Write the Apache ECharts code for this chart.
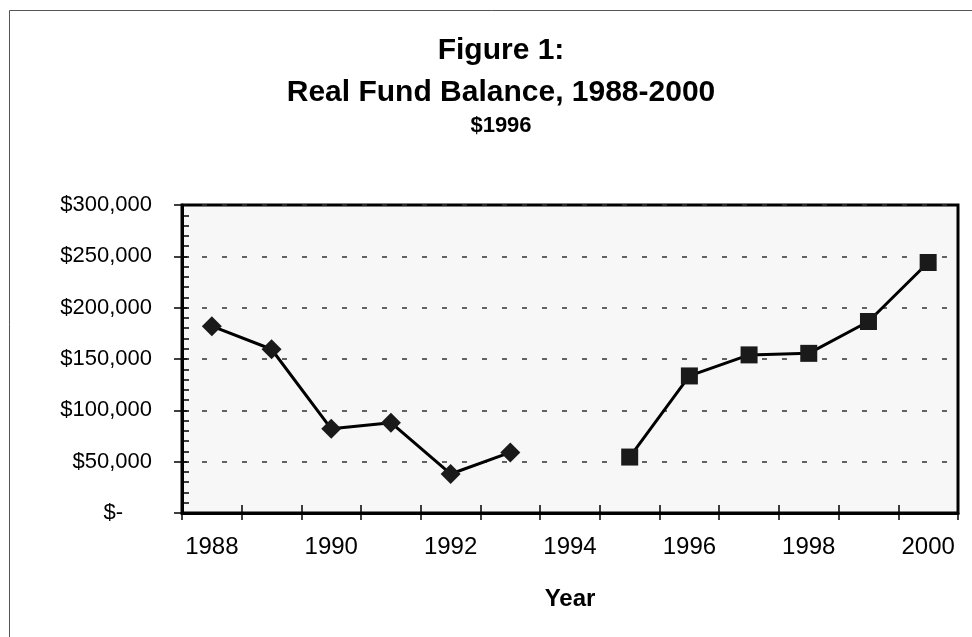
<!DOCTYPE html>
<html>
<head>
<meta charset="utf-8">
<title>Real Fund Balance, 1988-2000</title>
<script src="https://cdn.jsdelivr.net/npm/echarts@6/dist/echarts.min.js"></script>
<style>
  html, body { margin: 0; padding: 0; background: #fff; }
  #chart { width: 972px; height: 637px; }
</style>
</head>
<body>
<div id="chart"></div>
<script>
// categories (years) and the two segments of the series
var years = ['1988', '1989', '1990', '1991', '1992', '1993', '1994', '1995', '1996', '1997', '1998', '1999', '2000'];
var earlyYears = ['1988', '1989', '1990', '1991', '1992', '1993'];
var earlyBalance = [182000, 159500, 82000, 88000, 38000, 59000];
var lateYears = ['1995', '1996', '1997', '1998', '1999', '2000'];
var lateBalance = [54500, 133500, 154000, 155500, 186500, 244000];
var yTicks = [0, 50000, 100000, 150000, 200000, 250000, 300000];

var FONT = '"Liberation Sans", Arial, sans-serif';

function toSeries(keys, vals) {
  return years.map(function (y) {
    var i = keys.indexOf(y);
    return i < 0 ? null : vals[i];
  });
}

function money(v) {
  if (v === 0) return '{z|$-}';
  return '$' + v.toLocaleString('en-US');
}

var chart = echarts.init(document.getElementById('chart'));

var option = {
  animation: false,
  backgroundColor: '#fff',
  title: [
    { text: 'Figure 1:', left: 496, top: 31, textAlign: 'center',
      textStyle: { fontFamily: FONT, fontSize: 30, fontWeight: 'bold', color: '#000' } },
    { text: 'Real Fund Balance, 1988-2000', left: 496, top: 73, textAlign: 'center',
      textStyle: { fontFamily: FONT, fontSize: 30, fontWeight: 'bold', color: '#000' } },
    { text: '$1996', left: 496, top: 110, textAlign: 'center',
      textStyle: { fontFamily: FONT, fontSize: 22, fontWeight: 'bold', color: '#000' } }
  ],
  graphic: [
    {
      type: 'rect',
      shape: { x: 9.5, y: 10.5, width: 1000, height: 700 },
      style: { fill: 'none', stroke: '#555', lineWidth: 1 },
      silent: true
    }
  ],
  grid: {
    left: 182, right: 14, top: 205, bottom: 124,
    show: true,
    backgroundColor: '#f7f7f7',
    borderColor: '#000',
    borderWidth: 3
  },
  xAxis: [
    {
      type: 'category',
      data: years,
      boundaryGap: true,
      name: 'Year',
      nameLocation: 'middle',
      nameGap: 74,
      nameTextStyle: { fontFamily: FONT, fontSize: 24, fontWeight: 'bold', color: '#000' },
      axisLine: { lineStyle: { color: '#000', width: 3 } },
      axisTick: { show: true, inside: false, length: 7, interval: 0, lineStyle: { color: '#000', width: 1.5 } },
      axisLabel: { interval: 1, margin: 22, fontFamily: FONT, fontSize: 24, color: '#000' },
      splitLine: { show: false }
    },
    {
      // inner half of the crossing ticks
      type: 'category',
      data: years,
      position: 'bottom',
      boundaryGap: true,
      axisLine: { show: false },
      axisTick: { show: true, inside: true, length: 8, interval: 0, lineStyle: { color: '#000', width: 1.5 } },
      axisLabel: { show: false },
      splitLine: { show: false }
    }
  ],
  yAxis: [
    {
      type: 'value',
      min: yTicks[0],
      max: yTicks[yTicks.length - 1],
      interval: yTicks[1] - yTicks[0],
      axisLine: { show: true, lineStyle: { color: '#000', width: 3 } },
      axisTick: { show: true, inside: false, length: 8, lineStyle: { color: '#000', width: 1.5 } },
      axisLabel: {
        margin: 30,
        fontFamily: FONT, fontSize: 22, color: '#000',
        formatter: money,
        rich: { z: { fontFamily: FONT, fontSize: 22, color: '#000', padding: [0, 29, 0, 0] } }
      },
      splitLine: { show: true, lineStyle: { color: '#333', width: 1.5, type: [5, 15] } }
    },
    {
      // minor ticks pointing into the plot
      type: 'value',
      position: 'left',
      min: yTicks[0],
      max: yTicks[yTicks.length - 1],
      interval: 10000,
      axisLine: { show: false },
      axisTick: { show: true, inside: true, length: 7, lineStyle: { color: '#000', width: 1.5 } },
      axisLabel: { show: false },
      splitLine: { show: false }
    }
  ],
  series: [
    {
      name: 'early',
      type: 'line',
      data: toSeries(earlyYears, earlyBalance),
      symbol: 'diamond',
      symbolSize: 20,
      lineStyle: { color: '#000', width: 3 },
      itemStyle: { color: '#1a1a1a' },
      connectNulls: false
    },
    {
      name: 'late',
      type: 'line',
      data: toSeries(lateYears, lateBalance),
      symbol: 'rect',
      symbolSize: 17,
      lineStyle: { color: '#000', width: 3 },
      itemStyle: { color: '#1a1a1a' },
      connectNulls: false
    }
  ]
};

chart.setOption(option);
</script>
</body>
</html>
